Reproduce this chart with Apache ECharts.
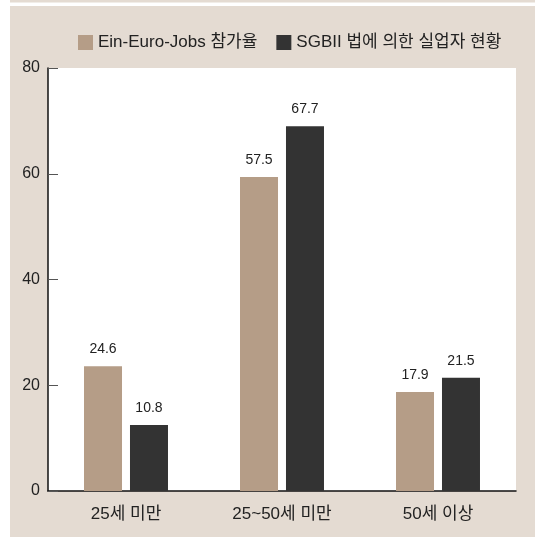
<!DOCTYPE html>
<html><head><meta charset="utf-8">
<script src="https://cdn.jsdelivr.net/npm/echarts@6/dist/echarts.min.js"></script>
<style>html,body{margin:0;padding:0;background:#fff}#c{width:535px;height:537px}</style>
</head><body><div id="c"></div>
<script>
const categories = ['25세 미만', '25~50세 미만', '50세 이상'];
const seriesNames = ['Ein-Euro-Jobs 참가율', 'SGBII 법에 의한 실업자 현황'];
// bar heights as drawn in the picture
const participation = [23.6, 59.4, 18.7];
const unemployed = [12.5, 69.0, 21.4];
// value labels printed above the bars
const participationLabels = ['24.6', '57.5', '17.9'];
const unemployedLabels = ['10.8', '67.7', '21.5'];
const yTicks = [0, 20, 40, 60, 80];

const font = '"Liberation Sans", Arial, "Noto Sans CJK KR", sans-serif';
const chart = echarts.init(document.getElementById('c'), null, {renderer: 'canvas'});
function mkLabel(arr) {
  return {show: true, position: 'top', distance: 10, fontSize: 14, color: '#222', fontFamily: font,
    formatter: p => arr[p.dataIndex]};
}
chart.setOption({
  animation: false,
  backgroundColor: '#fff',
  graphic: [
    {type: 'rect', shape: {x: 10, y: 0, width: 525, height: 2.5}, style: {fill: '#e4dbd2'}, z: -10},
    {type: 'rect', shape: {x: 10, y: 6, width: 525, height: 531}, style: {fill: '#e4dbd2'}, z: -10}
  ],
  textStyle: {fontFamily: font},
  legend: {
    top: 29, left: 73, itemWidth: 15, itemHeight: 15, itemGap: 19, icon: 'rect',
    textStyle: {fontSize: 17, color: '#222', fontFamily: font},
    data: seriesNames
  },
  grid: {left: 48, right: 19, top: 68, bottom: 46, show: true, backgroundColor: '#fff', borderWidth: 0},
  xAxis: {
    type: 'category', data: categories,
    axisLine: {lineStyle: {color: '#111', width: 1.5}},
    axisTick: {inside: true, length: 10, lineStyle: {color: '#777'}},
    axisLabel: {fontSize: 17, color: '#222', margin: 15, fontFamily: font}
  },
  yAxis: {
    type: 'value', min: yTicks[0], max: yTicks[yTicks.length - 1], interval: yTicks[1] - yTicks[0],
    axisLine: {show: true, lineStyle: {color: '#111', width: 1.5}},
    axisTick: {show: true, inside: true, length: 10, lineStyle: {color: '#555'}},
    axisLabel: {fontSize: 16, color: '#222', margin: 8, fontFamily: font},
    splitLine: {show: false}
  },
  series: [
    {name: seriesNames[0], type: 'bar', data: participation, barWidth: 38, barGap: '21%',
      itemStyle: {color: '#b59d87'}, label: mkLabel(participationLabels)},
    {name: seriesNames[1], type: 'bar', data: unemployed, barWidth: 38,
      itemStyle: {color: '#333333'}, label: mkLabel(unemployedLabels)}
  ]
});
</script></body></html>
